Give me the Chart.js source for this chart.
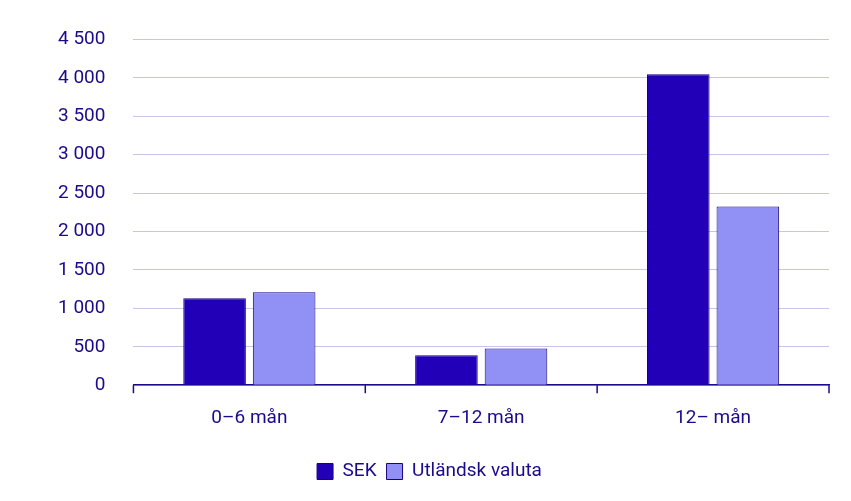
<!DOCTYPE html>
<html>
<head>
<meta charset="utf-8">
<script src="https://cdn.jsdelivr.net/npm/chart.js@4"></script>
<style>
  body { margin: 0; background: #fff; }
  #wrap { width: 851px; height: 501px; }
</style>
</head>
<body>
<div id="wrap"><canvas id="myChart"></canvas></div>
<script>
const categories = ['0–6 mån', '7–12 mån', '12– mån'];
const sekValues = [1130, 390, 4045];
const foreignValues = [1210, 477, 2324];

const textColor = '#1a0a8c';

new Chart(document.getElementById('myChart'), {
  type: 'bar',
  data: {
    labels: categories,
    datasets: [{
      label: 'SEK',
      data: sekValues,
      backgroundColor: '#2200b8',
      borderColor: '#1a0080',
      borderWidth: 1,
      barPercentage: 0.9,
      categoryPercentage: 0.6
    }, {
      label: 'Utländsk valuta',
      data: foreignValues,
      backgroundColor: '#9191f5',
      borderColor: '#1a0080',
      borderWidth: 1,
      barPercentage: 0.9,
      categoryPercentage: 0.6
    }]
  },
  options: {
    responsive: true,
    maintainAspectRatio: false,
    animation: false,
    layout: { padding: { left: 30, right: 22, top: 22, bottom: 10 } },
    plugins: {
      legend: {
        position: 'bottom',
        labels: {
          color: textColor,
          font: { family: 'Roboto', size: 19 },
          boxWidth: 16,
          boxHeight: 16,
          padding: 10
        }
      },
      tooltip: { enabled: false }
    },
    scales: {
      x: {
        grid: { display: false, drawTicks: false },
        border: { color: '#1a0a8c', width: 1.5 },
        ticks: { color: textColor, font: { family: 'Roboto', size: 19 }, padding: 22 }
      },
      y: {
        min: 0,
        max: 4500,
        ticks: {
          stepSize: 500,
          color: textColor,
          font: { family: 'Roboto', size: 19 },
          padding: 28,
          callback: v => v.toString().replace(/\B(?=(\d{3})+(?!\d))/g, ' ')
        },
        grid: { color: '#c8c4ea', drawTicks: false },
        border: { display: false }
      }
    }
  },
  plugins: [{
    id: 'xticks',
    afterDraw(chart) {
      const ctx = chart.ctx, area = chart.chartArea;
      ctx.save();
      ctx.strokeStyle = '#1a0a8c';
      ctx.lineWidth = 1.5;
      const n = categories.length, w = (area.right - area.left) / n;
      for (let i = 0; i <= n; i++) {
        const px = area.left + i * w;
        ctx.beginPath();
        ctx.moveTo(px, area.bottom);
        ctx.lineTo(px, area.bottom + 8);
        ctx.stroke();
      }
      ctx.restore();
    }
  }]
});
</script>
</body>
</html>
